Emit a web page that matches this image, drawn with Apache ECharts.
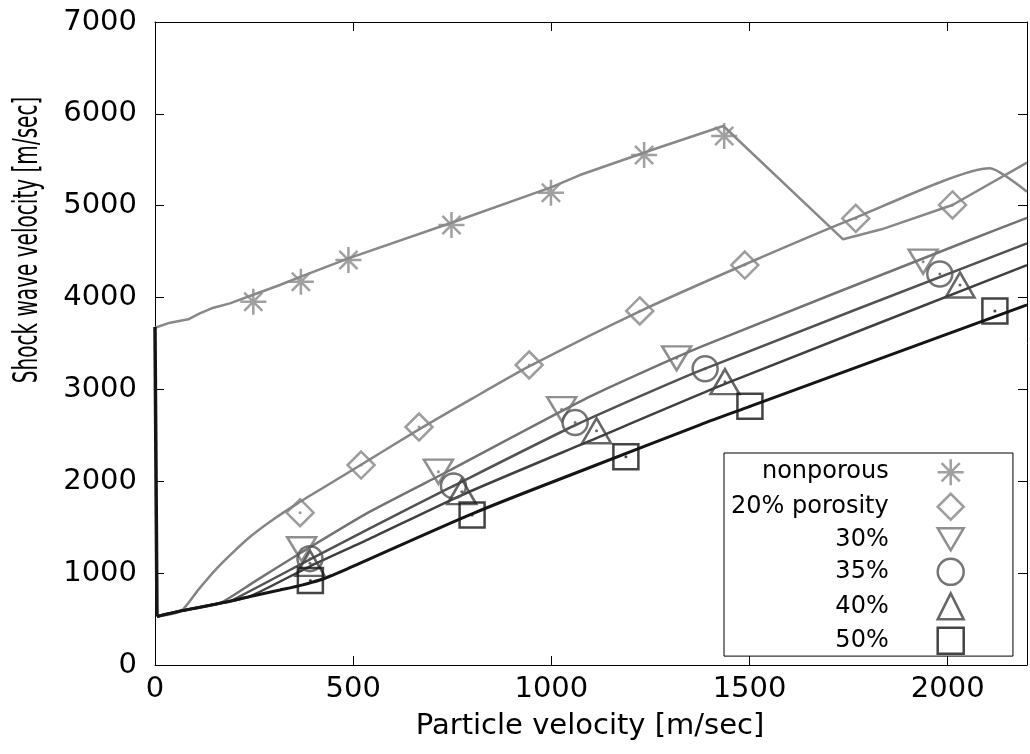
<!DOCTYPE html>
<html>
<head>
<meta charset="utf-8">
<script src="https://cdn.jsdelivr.net/npm/echarts@6/dist/echarts.min.js"></script>
<style>html,body{margin:0;padding:0;background:#fff}#c{width:1030px;height:754px}</style>
</head>
<body>
<div id="c"></div>
<script>
// ---- axes ----
const xRange = [0, 2200], xStep = 500;
const yRange = [0, 7000], yStep = 1000;
const xTitle = 'Particle velocity [m/sec]';
const yTitle = 'Shock wave velocity [m/sec]';

// ---- legend names ----
const names = ['nonporous', '20% porosity', '30%', '35%', '40%', '50%'];

// ---- calculated curves [particle velocity, shock velocity] ----
const curveJump = [[0,3680],[5,528]];
const curveNonporous = [[0,3672],[38,3727],[84,3763],[113,3828],[143,3883],[189,3937],[248,4031],[315,4137],[368,4228],[488,4427],[748,4815],[999,5200],[1072,5334],[1266,5625],[1434,5868],[1736,4634],[1833,4743],[2012,5008],[2200,5470]];
const curve20 = [[5,528],[67,592],[110,823],[156,1052],[200,1240],[240,1397],[300,1590],[360,1760],[416,1908],[520,2180],[666,2565],[800,2900],[944,3250],[1223,3850],[1488,4360],[1768,4870],[2106,5407],[2200,5152]];
const curve30 = [[5,528],[67,590],[164,675],[250,905],[366,1216],[542,1669],[744,2120],[1097,2921],[1375,3460],[2056,4627],[2200,4868]];
const curve35 = [[5,528],[67,590],[164,672],[193,702],[391,1150],[542,1488],[744,1930],[1060,2610],[1375,3205],[2200,4590]];
const curve40 = [[5,528],[67,590],[164,672],[240,748],[391,1075],[542,1375],[774,1850],[1097,2440],[1438,3060],[2200,4354]];
const curve50 = [[5,528],[67,590],[164,672],[240,745],[315,816],[370,870],[416,925],[450,982],[484,1044],[803,1651],[1097,2150],[1375,2615],[1501,2815],[2200,3920]];

// ---- measured points ----
const ptsNonporous = [[248,3955],[368,4173],[488,4409],[748,4790],[999,5142],[1234,5552],[1436,5759]];
const pts20 = [[366,1658],[520,2177],[666,2591],[944,3266],[1223,3854],[1488,4354],[1768,4862],[2012,5008]];
const pts30 = [[370,1260],[715,2104],[1026,2785],[1316,3339],[1938,4391]];
const pts35 = [[391,1158],[753,1950],[1060,2640],[1388,3225],[1980,4257]];
const pts40 = [[391,1107],[774,1887],[1114,2550],[1438,3084],[2031,4137]];
const pts50 = [[392,920],[800,1633],[1188,2268],[1501,2816],[2119,3855]];

const curves = [curveNonporous, curve20, curve30, curve35, curve40, curve50, curveJump];
const points = [ptsNonporous, pts20, pts30, pts35, pts40, pts50];
const colors = ['#888888', '#858585', '#737373', '#525252', '#404040', '#151515', '#151515'];
const lineWidths = [2.5, 2.5, 2.5, 2.5, 2.5, 3, 3.5];
const smoothing = [false, 0.2, 0.2, 0.2, 0.2, 0.3, false];
const symbols = [
  'path://M10,0L10,20M0,10L20,10M3,3L17,17M3,17L17,3',
  'diamond',
  'path://M0,0L20,0L10,17Z',
  'circle',
  'triangle',
  'rect'
];
const symbolSizes = [[26,26],[27,27],[29,24],[25,25],[29,25],[25,25]];
const hasDot = [false, true, true, true, true, true];

const font = 'DejaVu Sans';
const series = [];
curves.forEach((c, i) => {
  series.push({
    type: 'line', name: '_curve' + i, data: c, showSymbol: false, symbol: 'none',
    smooth: smoothing[i], lineStyle: { color: colors[i], width: lineWidths[i] }, z: 2, silent: true
  });
});
points.forEach((p, i) => {
  series.push({
    type: 'scatter', name: names[i], data: p, symbol: symbols[i], symbolSize: symbolSizes[i],
    itemStyle: { color: 'rgba(0,0,0,0)', borderColor: colors[i], borderWidth: 2.5 }, z: 3, silent: true
  });
  if (hasDot[i]) {
    series.push({
      type: 'scatter', name: '_dot' + i, data: p, symbol: 'circle', symbolSize: 3,
      itemStyle: { color: colors[i] }, z: 4, silent: true
    });
  }
});

const plain = v => String(v);
const axisCommonX = {
  type: 'value', min: xRange[0], max: xRange[1], interval: xStep,
  axisLine: { show: true, onZero: false, lineStyle: { color: '#000', width: 1 } },
  axisTick: { show: true, inside: true, length: 9, lineStyle: { color: '#000', width: 1 } },
  splitLine: { show: false }
};
const axisCommonY = {
  type: 'value', min: yRange[0], max: yRange[1], interval: yStep,
  axisLine: { show: true, onZero: false, lineStyle: { color: '#000', width: 1 } },
  axisTick: { show: true, inside: true, length: 9, lineStyle: { color: '#000', width: 1 } },
  splitLine: { show: false }
};

const chart = echarts.init(document.getElementById('c'), null, { renderer: 'canvas' });
chart.setOption({
  animation: false,
  backgroundColor: '#fff',
  grid: { left: 155, top: 22, right: 3, bottom: 89, containLabel: false },
  xAxis: [
    Object.assign({}, axisCommonX, { position: 'bottom',
      axisLabel: { show: true, margin: 10, fontSize: 29, fontFamily: font, color: '#000', showMaxLabel: false, formatter: plain } }),
    Object.assign({}, axisCommonX, { position: 'top', axisLabel: { show: false } })
  ],
  yAxis: [
    Object.assign({}, axisCommonY, { position: 'left',
      axisLabel: { show: true, margin: 18, fontSize: 29, fontFamily: font, color: '#000', formatter: plain } }),
    Object.assign({}, axisCommonY, { position: 'right', axisLabel: { show: false } })
  ],
  legend: {
    data: names, orient: 'vertical', align: 'right', left: 724, top: 453,
    itemWidth: 26, itemHeight: 26, itemGap: 6, padding: [5, 48, 1, 7],
    borderColor: '#000', borderWidth: 1, backgroundColor: '#fff', selectedMode: false,
    itemStyle: { borderWidth: 2.5 },
    textStyle: { fontFamily: font, fontSize: 24, color: '#000', padding: [0, 44, 0, 0] }
  },
  graphic: [
    { type: 'text', x: 590, y: 726, silent: true,
      style: { text: xTitle, fontSize: 29, fontFamily: font, fill: '#000', align: 'center', verticalAlign: 'middle' } },
    { type: 'text', x: 28, y: 240, rotation: Math.PI / 2, scaleX: 0.59, silent: true,
      style: { text: yTitle, fontSize: 34, fontFamily: font, fill: '#000', align: 'center', verticalAlign: 'middle' } }
  ],
  series: series
});
</script>
</body>
</html>
